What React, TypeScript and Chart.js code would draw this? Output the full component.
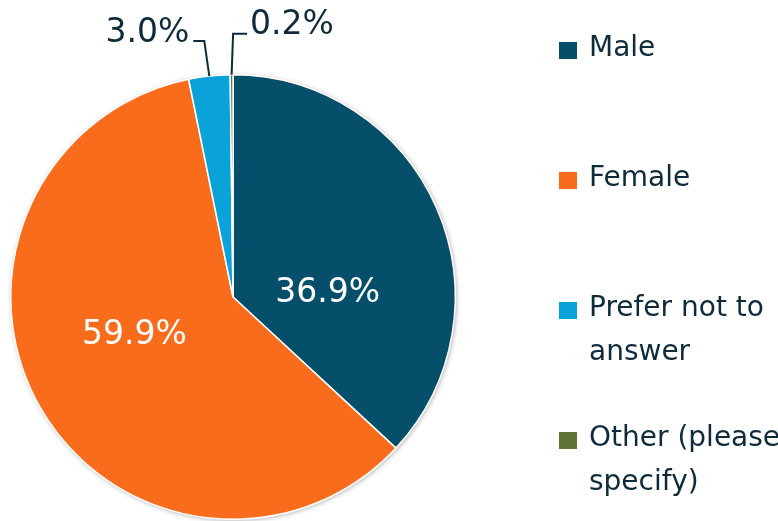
import React, { useEffect, useRef } from "react";
import { Chart, registerables } from "chart.js";

Chart.register(...registerables);

const categories = ["Male", "Female", "Prefer not to answer", "Other (please specify)"];
const legendLines = [["Male"], ["Female"], ["Prefer not to", "answer"], ["Other (please", "specify)"]];
const values = [36.9, 59.9, 3.0, 0.2];
const valueLabels = ["36.9%", "59.9%", "3.0%", "0.2%"];
const colors = ["#064f6b", "#f96c1b", "#0aa3d9", "#5e7234"];

const TEXT = "#0e2b3b";
const FONT = '"DejaVu Sans", sans-serif';

const pieDecor = {
  id: "pieDecor",
  beforeDatasetsDraw(chart: any) {
    const meta = chart.getDatasetMeta(0);
    const a = meta.data[0];
    if (!a) return;
    const ctx = chart.ctx;
    ctx.save();
    ctx.beginPath();
    ctx.arc(a.x, a.y, a.outerRadius, 0, Math.PI * 2);
    ctx.shadowColor = "rgba(0,0,0,0.35)";
    ctx.shadowBlur = 5;
    ctx.shadowOffsetX = 1;
    ctx.shadowOffsetY = 1;
    ctx.fillStyle = "#ffffff";
    ctx.fill();
    ctx.restore();
  },
  afterDatasetsDraw(chart: any) {
    const meta = chart.getDatasetMeta(0);
    const ctx = chart.ctx;
    ctx.save();
    ctx.font = `33px ${FONT}`;
    ctx.textBaseline = "alphabetic";
    meta.data.forEach((arc: any, i: number) => {
      const { x, y, outerRadius, startAngle, endAngle } = arc.getProps(
        ["x", "y", "outerRadius", "startAngle", "endAngle"],
        true
      );
      const mid = (startAngle + endAngle) / 2;
      if (i === 0 || i === 1) {
        const ang = i === 0 ? (-2.4 * Math.PI) / 180 : (158.5 * Math.PI) / 180;
        const rr = i === 0 ? 0.426 : 0.477;
        const px = x + Math.cos(ang) * outerRadius * rr;
        const py = y + Math.sin(ang) * outerRadius * rr;
        ctx.fillStyle = "#ffffff";
        ctx.textAlign = "center";
        ctx.textBaseline = "middle";
        ctx.fillText(valueLabels[i], px, py);
      } else {
        const sx = x + Math.cos(mid) * outerRadius;
        const sy = y + Math.sin(mid) * outerRadius;
        const left = i === 2;
        const ex = left ? sx - 5 : sx + 1.5;
        const ey = left ? sy - 35 : sy - 41;
        const hx = left ? ex - 11 : ex + 14;
        ctx.strokeStyle = TEXT;
        ctx.lineWidth = 2;
        ctx.beginPath();
        ctx.moveTo(sx, sy);
        ctx.lineTo(ex, ey);
        ctx.lineTo(hx, ey);
        ctx.stroke();
        ctx.fillStyle = TEXT;
        ctx.textBaseline = "alphabetic";
        ctx.textAlign = left ? "right" : "left";
        ctx.fillText(valueLabels[i], left ? hx - 4 : hx + 3, ey + 0.5);
      }
    });
    ctx.restore();
  },
  afterDraw(chart: any) {
    const ctx = chart.ctx;
    const ca = chart.chartArea;
    ctx.save();
    const boxX = ca.right + 103;
    const textX = boxX + 30;
    let top = 42;
    ctx.font = `28px ${FONT}`;
    ctx.textBaseline = "alphabetic";
    ctx.textAlign = "left";
    legendLines.forEach((lines, i) => {
      ctx.fillStyle = colors[i];
      ctx.fillRect(boxX, top, 18, 17);
      ctx.fillStyle = TEXT;
      lines.forEach((ln, j) => {
        ctx.fillText(ln, textX, top + 14 + j * 44);
      });
      top += 130;
    });
    ctx.restore();
  },
};

export default function App() {
  const ref = useRef<HTMLCanvasElement | null>(null);
  useEffect(() => {
    document.body.style.margin = "0";
    const chart = new Chart(ref.current!, {
      type: "pie",
      data: {
        labels: categories,
        datasets: [
          {
            data: values,
            backgroundColor: colors,
            borderColor: "#ffffff",
            borderWidth: 1.5,
          },
        ],
      },
      options: {
        responsive: false,
        animation: false,
        layout: { padding: { left: 10, top: 74, right: 322, bottom: 1 } },
        plugins: {
          legend: { display: false },
          tooltip: { enabled: false },
        },
      },
      plugins: [pieDecor],
    });
    return () => chart.destroy();
  }, []);
  return (
    <div style={{ position: "absolute", left: 0, top: 0, width: 778, height: 521 }}>
      <canvas ref={ref} width={778} height={521} />
    </div>
  );
}
